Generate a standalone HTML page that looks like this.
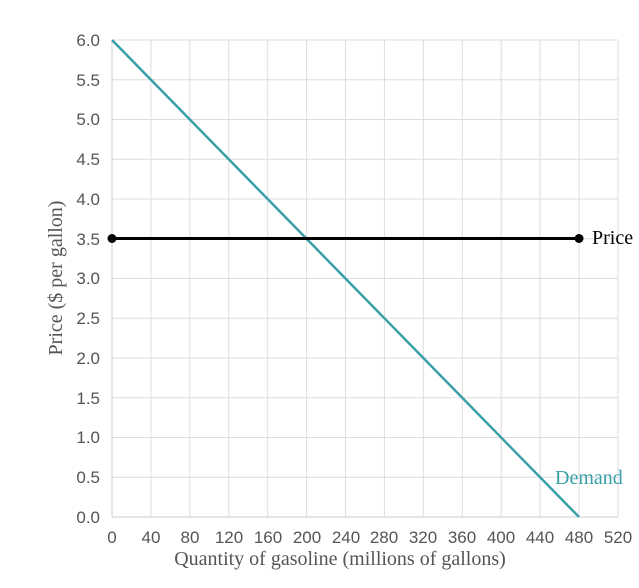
<!DOCTYPE html>
<html><head><style>body{margin:0;background:#fff}</style></head><body>
<svg width="639" height="583" xmlns="http://www.w3.org/2000/svg">
<g stroke="#ddd" stroke-width="1">
<line x1="112" y1="40" x2="618" y2="40"/><line x1="112" y1="79.75" x2="618" y2="79.75"/><line x1="112" y1="119.5" x2="618" y2="119.5"/><line x1="112" y1="159.25" x2="618" y2="159.25"/><line x1="112" y1="199" x2="618" y2="199"/><line x1="112" y1="238.75" x2="618" y2="238.75"/><line x1="112" y1="278.5" x2="618" y2="278.5"/><line x1="112" y1="318.25" x2="618" y2="318.25"/><line x1="112" y1="358" x2="618" y2="358"/><line x1="112" y1="397.75" x2="618" y2="397.75"/><line x1="112" y1="437.5" x2="618" y2="437.5"/><line x1="112" y1="477.25" x2="618" y2="477.25"/>
<line x1="150.9" y1="40" x2="150.9" y2="517"/><line x1="189.8" y1="40" x2="189.8" y2="517"/><line x1="228.8" y1="40" x2="228.8" y2="517"/><line x1="267.7" y1="40" x2="267.7" y2="517"/><line x1="306.6" y1="40" x2="306.6" y2="517"/><line x1="345.5" y1="40" x2="345.5" y2="517"/><line x1="384.4" y1="40" x2="384.4" y2="517"/><line x1="423.3" y1="40" x2="423.3" y2="517"/><line x1="462.3" y1="40" x2="462.3" y2="517"/><line x1="501.2" y1="40" x2="501.2" y2="517"/><line x1="540.1" y1="40" x2="540.1" y2="517"/><line x1="579" y1="40" x2="579" y2="517"/><line x1="618" y1="40" x2="618" y2="517"/>
</g>
<line x1="112" y1="40" x2="112" y2="517" stroke="#ccc"/>
<line x1="112" y1="517" x2="618" y2="517" stroke="#ccc"/>
<g font-family="Liberation Sans, sans-serif" font-size="17" fill="#555" text-anchor="end">
<text x="100" y="46">6.0</text><text x="100" y="86">5.5</text><text x="100" y="125">5.0</text><text x="100" y="165">4.5</text><text x="100" y="205">4.0</text><text x="100" y="245">3.5</text><text x="100" y="284">3.0</text><text x="100" y="324">2.5</text><text x="100" y="364">2.0</text><text x="100" y="404">1.5</text><text x="100" y="443">1.0</text><text x="100" y="483">0.5</text><text x="100" y="523">0.0</text>
</g>
<g font-family="Liberation Sans, sans-serif" font-size="17" fill="#555" text-anchor="middle">
<text x="112" y="543">0</text><text x="151" y="543">40</text><text x="190" y="543">80</text><text x="229" y="543">120</text><text x="268" y="543">160</text><text x="307" y="543">200</text><text x="346" y="543">240</text><text x="384" y="543">280</text><text x="423" y="543">320</text><text x="462" y="543">360</text><text x="501" y="543">400</text><text x="540" y="543">440</text><text x="579" y="543">480</text><text x="618" y="543">520</text>
</g>
<text x="340" y="565" font-family="Liberation Serif, serif" font-size="20" fill="#555" text-anchor="middle">Quantity of gasoline (millions of gallons)</text>
<text transform="translate(62,278) rotate(-90)" font-family="Liberation Serif, serif" font-size="20" fill="#555" text-anchor="middle">Price ($ per gallon)</text>
<line x1="112" y1="40" x2="579" y2="517" stroke="#3aa0a8" stroke-width="2.5"/>
<line x1="112" y1="238.5" x2="579" y2="238.5" stroke="#000" stroke-width="3"/>
<circle cx="112" cy="238.5" r="4.5"/><circle cx="579" cy="238.5" r="4.5"/>
<text x="592" y="244" font-family="Liberation Serif, serif" font-size="20" fill="#000">Price</text>
<text x="555" y="484" font-family="Liberation Serif, serif" font-size="20" fill="#3aa0a8">Demand</text>
</svg>
</body></html>
